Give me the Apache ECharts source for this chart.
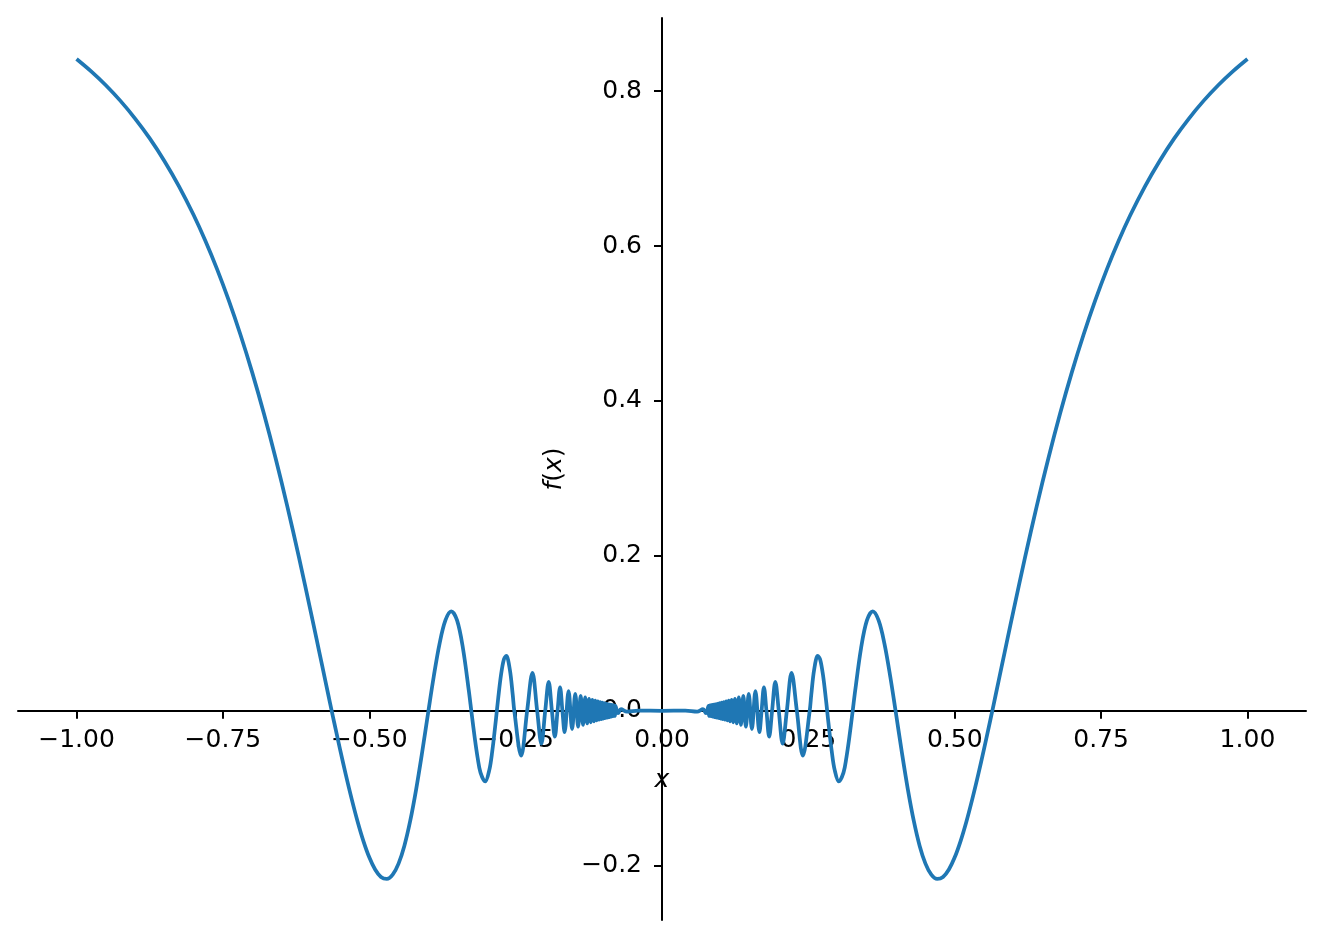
<!DOCTYPE html>
<html>
<head>
<meta charset="utf-8">
<script src="https://cdn.jsdelivr.net/npm/echarts@6/dist/echarts.min.js"></script>
<style>
html,body{margin:0;padding:0;background:#fff;}
#chart{width:1324px;height:940px;}
</style>
</head>
<body>
<div id="chart"></div>
<script>
// Left half (x < 0)
const leftX = [-1.0,-0.975,-0.95,-0.925,-0.9,-0.875,-0.85,-0.825,-0.8,-0.78,-0.76,-0.74,-0.72,-0.7,-0.68,-0.66,-0.64,-0.62,-0.6,-0.59,-0.58,-0.57,-0.56419,-0.56,-0.55,-0.54,-0.53,-0.52,-0.51,-0.5,-0.49,-0.48,-0.47,-0.46,-0.45,-0.44,-0.43,-0.42,-0.41,-0.39894,-0.39,-0.38,-0.37,-0.36,-0.35,-0.34,-0.33,-0.32574,-0.325,-0.32,-0.315,-0.31,-0.302,-0.295,-0.29,-0.285,-0.28209,-0.28,-0.275,-0.27,-0.266,-0.26,-0.255,
  -0.25231,-0.24057,-0.23033,-0.22129,-0.21324,-0.20601,-0.19947,-0.19352,-0.18806,-0.18305,-0.17841,-0.17411,-0.17011,-0.16637,-0.15958,-0.15355,-0.14816,-0.14331,-0.13889,-0.13487,-0.13117,-0.12776,-0.12461,-0.12168,-0.11894,-0.11638,-0.11398,-0.11173,-0.1096,-0.10759,-0.10568,-0.10388,-0.10216,-0.10052,-0.09897,-0.09748,-0.09605,-0.09469,-0.09339,-0.09213,-0.09093,-0.08977,-0.08865,-0.08758,-0.08654,-0.08554,-0.08458,-0.08364,-0.08274,-0.08186,-0.08101,-0.08019,-0.07939,-0.075,-0.07,-0.06,-0.04];
const leftY = [0.8415,0.8255,0.8076,0.7874,0.7646,0.739,0.7099,0.6771,0.64,0.6068,0.5702,0.5298,0.4855,0.4369,0.3837,0.326,0.2639,0.1977,0.1281,0.0925,0.0566,0.0207,0,-0.0148,-0.0495,-0.0828,-0.1141,-0.1429,-0.1682,-0.1892,-0.2049,-0.2146,-0.2171,-0.2116,-0.1973,-0.1741,-0.1419,-0.1017,-0.05515,0,0.0437,0.0865,0.1167,0.1284,0.1167,0.0808,0.0261,0,-0.00451,-0.03423,-0.0603,-0.07985,-0.0912,-0.07655,-0.05261,-0.02048,0,0.01474,0.04615,0.06656,0.07076,0.0536,0.02102,
  0,-0.05787,0,0.04897,0,-0.04244,0,0.03745,0,-0.03351,0,0.03032,0,-0.02768,0.02546,-0.02358,0.02195,-0.02054,0.01929,-0.01819,0.01721,-0.01632,0.01553,-0.01481,0.01415,-0.01355,0.01299,-0.01248,0.01201,-0.01157,0.01117,-0.01079,0.01044,-0.01011,0.00979,-0.0095,0.00923,-0.00897,0.00872,-0.00849,0.00827,-0.00806,0.00786,-0.00767,0.00749,-0.00732,0.00715,-0.007,0.00685,-0.0067,0.00656,-0.00643,0.0063,-0.003,0.002,-0.001,0.0003];
// Right half (x >= 0)
const rightX = [0,0.04,0.06,0.07,0.075,0.07939,0.08019,0.08101,0.08186,0.08274,0.08364,0.08458,0.08554,0.08654,0.08758,0.08865,0.08977,0.09093,0.09213,0.09339,0.09469,0.09605,0.09748,0.09897,0.10052,0.10216,0.10388,0.10568,0.10759,0.1096,0.11173,0.11398,0.11638,0.11894,0.12168,0.12461,0.12776,0.13117,0.13487,0.13889,0.14331,0.14816,0.15355,0.15958,0.16637,0.17011,0.17411,0.17841,0.18305,0.18806,0.19352,0.19947,0.20601,0.21324,0.22129,0.23033,0.24057,
  0.25231,0.255,0.26,0.266,0.27,0.275,0.28,0.28209,0.285,0.29,0.295,0.302,0.31,0.315,0.32,0.325,0.32574,0.33,0.34,0.35,0.36,0.37,0.38,0.39,0.39894,0.41,0.42,0.43,0.44,0.45,0.46,0.47,0.48,0.49,0.5,0.51,0.52,0.53,0.54,0.55,0.56,0.56419,0.57,0.58,0.59,0.6,0.62,0.64,0.66,0.68,0.7,0.72,0.74,0.76,0.78,0.8,0.825,0.85,0.875,0.9,0.925,0.95,0.975,1.0];
const rightY = [0,0.0003,-0.001,0.002,-0.003,0.0063,-0.00643,0.00656,-0.0067,0.00685,-0.007,0.00715,-0.00732,0.00749,-0.00767,0.00786,-0.00806,0.00827,-0.00849,0.00872,-0.00897,0.00923,-0.0095,0.00979,-0.01011,0.01044,-0.01079,0.01117,-0.01157,0.01201,-0.01248,0.01299,-0.01355,0.01415,-0.01481,0.01553,-0.01632,0.01721,-0.01819,0.01929,-0.02054,0.02195,-0.02358,0.02546,-0.02768,0,0.03032,0,-0.03351,0,0.03745,0,-0.04244,0,0.04897,0,-0.05787,
  0,0.02102,0.0536,0.07076,0.06656,0.04615,0.01474,0,-0.02048,-0.05261,-0.07655,-0.0912,-0.07985,-0.0603,-0.03423,-0.00451,0,0.0261,0.0808,0.1167,0.1284,0.1167,0.0865,0.0437,0,-0.05515,-0.1017,-0.1419,-0.1741,-0.1973,-0.2116,-0.2171,-0.2146,-0.2049,-0.1892,-0.1682,-0.1429,-0.1141,-0.0828,-0.0495,-0.0148,0,0.0207,0.0566,0.0925,0.1281,0.1977,0.2639,0.326,0.3837,0.4369,0.4855,0.5298,0.5702,0.6068,0.64,0.6771,0.7099,0.739,0.7646,0.7874,0.8076,0.8255,0.8415];

const xTicks = [-1.0,-0.75,-0.5,-0.25,0,0.25,0.5,0.75,1.0];
const xTickLabels = ['\u22121.00','\u22120.75','\u22120.50','\u22120.25','0.00','0.25','0.50','0.75','1.00'];
const yTicks = [-0.2,0,0.2,0.4,0.6,0.8];
const yTickLabels = ['\u22120.2','0.0','0.2','0.4','0.6','0.8'];

const xs = leftX.concat(rightX);
const ys = leftY.concat(rightY);
const data = xs.map((x, i) => [x, ys[i]]);

function lookup(ticks, labels, v) {
  for (let i = 0; i < ticks.length; i++) if (Math.abs(ticks[i] - v) < 1e-9) return labels[i];
  return '';
}

const GRID = {left: 18, right: 18, top: 18, bottom: 20};
const font = "'DejaVu Sans', sans-serif";
const chart = echarts.init(document.getElementById('chart'), null, {renderer: 'canvas'});
const option = {
  animation: false,
  backgroundColor: '#ffffff',
  grid: Object.assign({containLabel: false, outerBoundsMode: 'none'}, GRID),
  xAxis: {
    type: 'value',
    min: -1.1, max: 1.1,
    offset: 0,
    axisLine: {show: true, onZero: false, lineStyle: {color: '#000', width: 2}},
    axisTick: {show: true, length: 8, lineStyle: {color: '#000', width: 2}, customValues: xTicks},
    axisLabel: {show: true, margin: 17, fontSize: 25, color: '#000', fontFamily: font,
      customValues: xTicks, formatter: v => lookup(xTicks, xTickLabels, v)},
    splitLine: {show: false},
    name: 'x',
    nameLocation: 'middle',
    nameGap: 57,
    nameTextStyle: {fontSize: 25, color: '#000', fontFamily: font, fontStyle: 'italic'}
  },
  yAxis: {
    type: 'value',
    min: -0.2701, max: 0.8944,
    offset: 0,
    axisLine: {show: true, onZero: false, lineStyle: {color: '#000', width: 2}},
    axisTick: {show: true, length: 8, lineStyle: {color: '#000', width: 2}, customValues: yTicks},
    axisLabel: {show: true, margin: 20, fontSize: 25, color: '#000', fontFamily: font,
      customValues: yTicks, formatter: v => lookup(yTicks, yTickLabels, v)},
    splitLine: {show: false},
    name: '{i|f}({i|x})',
    nameLocation: 'middle',
    nameRotate: 90,
    nameGap: 95,
    nameTextStyle: {fontSize: 25, color: '#000', fontFamily: font,
      rich: {i: {fontSize: 25, color: '#000', fontFamily: font, fontStyle: 'italic'}}}
  },
  series: [{
    type: 'line',
    data: data,
    showSymbol: false,
    smooth: 0.35,
    clip: false,
    lineStyle: {color: '#1f77b4', width: 3.75},
    itemStyle: {color: '#1f77b4'}
  }]
};
chart.setOption(option);
// Move both axes so they cross at the data origin (matplotlib "center" spines)
const origin = chart.convertToPixel({gridIndex: 0}, [0, 0]);
const gridBottomPx = 940 - GRID.bottom;
chart.setOption({
  xAxis: {offset: -(gridBottomPx - origin[1])},
  yAxis: {offset: -(origin[0] - GRID.left)}
});
</script>
</body>
</html>
